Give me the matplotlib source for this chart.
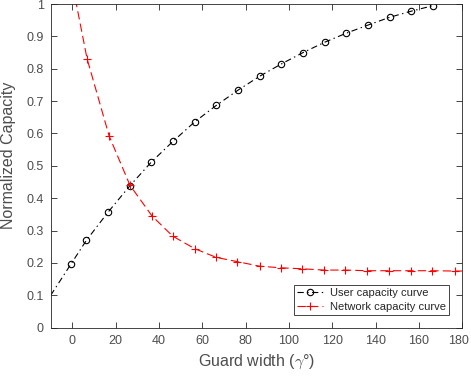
import matplotlib
matplotlib.use("Agg")
import matplotlib.pyplot as plt
import matplotlib.transforms as mtransforms

# user capacity curve (black, dash-dot, circles)
user_x = [-10, -0.5, 6.5, 16.5, 26.5, 36.5, 46.5, 56.5, 66.5, 76.5, 86.5,
          96.5, 106.5, 116.5, 126.5, 136.5, 146.5, 156.5, 166.5]
user_y = [0.10, 0.198, 0.270, 0.357, 0.438, 0.512, 0.576, 0.636, 0.687, 0.734,
          0.777, 0.815, 0.850, 0.882, 0.910, 0.935, 0.959, 0.978, 0.995]

# network capacity curve (red, dashed, plus)
net_x = [-0.5, 6.8, 17.0, 26.6, 36.8, 46.3, 56.5, 66.5, 76.2, 86.4, 96.3,
         106.0, 116.2, 126.0, 136.0, 146.3, 156.2, 165.8, 176.6, 180]
net_y = [1.08, 0.831, 0.592, 0.440, 0.345, 0.283, 0.244, 0.217, 0.204, 0.190,
         0.185, 0.182, 0.178, 0.178, 0.176, 0.176, 0.176, 0.176, 0.175, 0.175]

x_ticks = list(range(0, 181, 20))
y_ticks = [0, 0.1, 0.2, 0.3, 0.4, 0.5, 0.6, 0.7, 0.8, 0.9, 1]
y_labels = ["0", "0.1", "0.2", "0.3", "0.4", "0.5", "0.6", "0.7", "0.8", "0.9", "1"]

plt.rcParams["font.family"] = ["Liberation Sans", "DejaVu Sans"]
plt.rcParams["mathtext.fontset"] = "cm"
plt.rcParams["lines.scale_dashes"] = False
gray = "#262626"
label_gray = "#4d4d4d"

fig = plt.figure(figsize=(4.71, 3.79), dpi=100)
ax = fig.add_axes([0.1076, 0.1354, 0.8739, 0.854])

ax.plot(user_x, user_y, color="k", linestyle=(0, (4.5, 2.5, 1, 2.5)),
        linewidth=0.8, marker="o", markersize=4.6, markerfacecolor="none",
        markeredgewidth=0.8, markevery=list(range(1, len(user_x))),
        label="User capacity curve")
ax.plot(net_x, net_y, color="#ff0000", linestyle=(0, (6, 3)), linewidth=0.8,
        marker="+", markersize=6.2, markeredgewidth=0.8,
        markevery=list(range(1, len(net_x) - 1)), label="Network capacity curve")

ax.set_xlim(-10, 180)
ax.set_ylim(0, 1)
ax.set_xticks(x_ticks)
ax.set_yticks(y_ticks)
ax.set_yticklabels(y_labels)
ax.tick_params(direction="in", top=True, right=True, length=4, width=0.6,
               colors=gray, labelsize=9, labelcolor=label_gray, pad=5)
for s in ax.spines.values():
    s.set_color(gray)
    s.set_linewidth(0.6)

# keep the last x tick label inside the figure edge
last = ax.get_xticklabels()[-1]
last.set_transform(last.get_transform() +
                   mtransforms.ScaledTranslation(-2.5 / 72, 0, fig.dpi_scale_trans))

ax.set_xlabel(r"Guard width ($\gamma$°)", fontsize=11.5, color=label_gray, labelpad=4)
ax.set_ylabel("Normalized Capacity", fontsize=11.5, color=label_gray)
ax.yaxis.set_label_coords(-0.085, 0.533)

leg = ax.legend(loc="lower right", bbox_to_anchor=(0.9677, 0.038), fontsize=8,
                fancybox=False, framealpha=1, edgecolor=gray, handlelength=2.35,
                borderpad=0.3, labelspacing=0.35, handletextpad=0.6,
                borderaxespad=0)
leg.get_frame().set_linewidth(0.6)
for t in leg.get_texts():
    t.set_color(gray)

fig.savefig("out.png", dpi=100)
